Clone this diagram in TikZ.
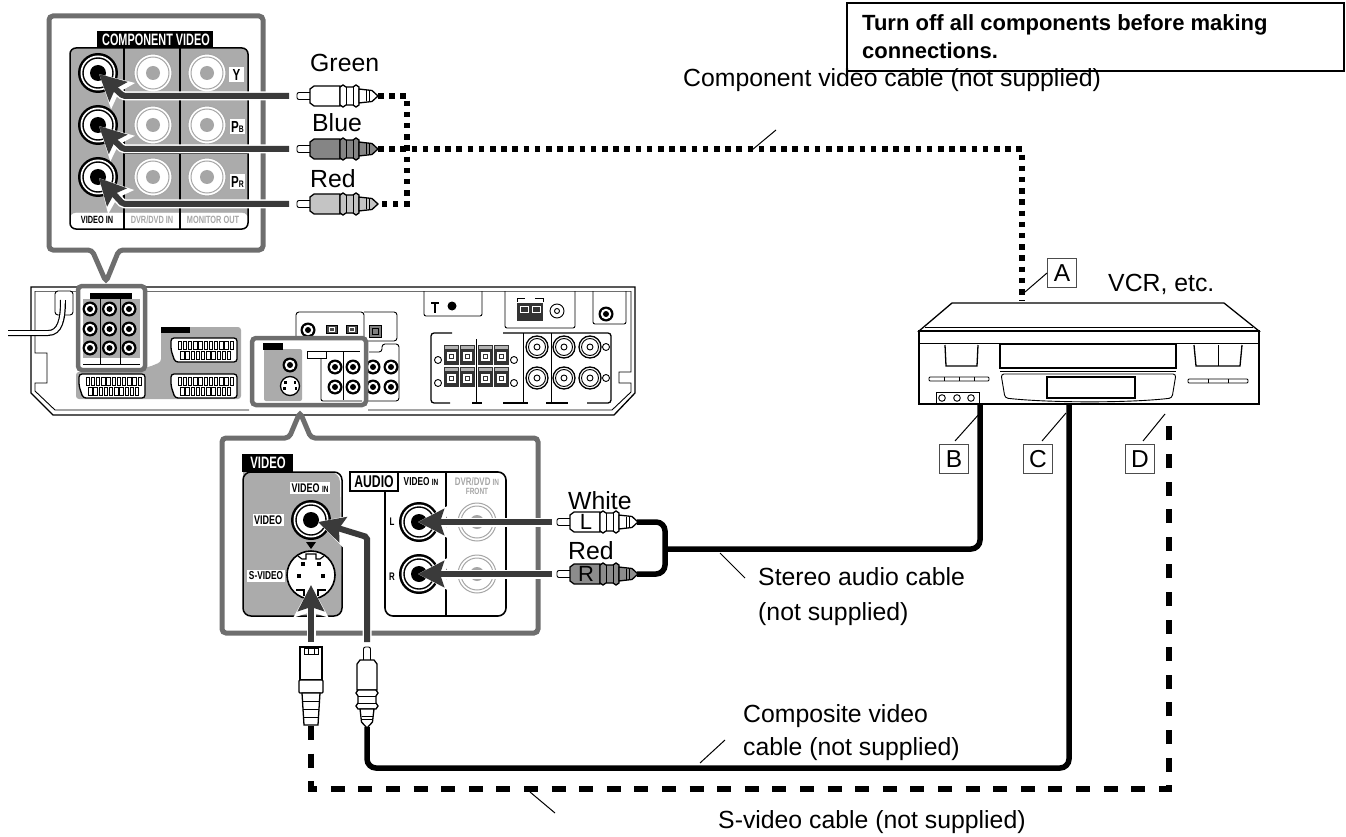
\documentclass[tikz,border=0pt]{standalone}
\usepackage{fontspec}
\setmainfont{Liberation Sans}
\usetikzlibrary{arrows.meta}
\definecolor{framegray}{HTML}{6E6E6E}
\definecolor{panelgray}{HTML}{ABABAB}
\definecolor{wiregray}{HTML}{3A3A3A}
\definecolor{fadegray}{HTML}{A6A6A6}
\definecolor{plugblue}{HTML}{858585}
\definecolor{plugred}{HTML}{C4C4C4}
\definecolor{plugdark}{HTML}{8C8C8C}
\newcommand{\narrowbold}[2][.72]{\bfseries\scalebox{#1}[1]{#2}}
\newcommand{\feedarrow}[1]{\draw [feedcase] #1; \draw [feedwire] #1;}
\tikzset{
	caption/.style={anchor=base west, inner sep=0pt, font=\fontsize{24.8}{28}\selectfont},
	warntext/.style={anchor=base west, inner sep=0pt, font=\fontsize{22}{28}\selectfont\bfseries},
	letterbox/.style={draw=black!70, line width=1pt, minimum size=29pt, inner sep=0pt, font=\fontsize{24.5}{28}\selectfont},
	tinylabel/.style={inner sep=1.5pt, fill=white, font=\fontsize{12.5}{13}\selectfont},
	tagbox/.style={fill=white, inner sep=0pt, minimum width=15pt, minimum height=15pt, font=\fontsize{16}{16}\selectfont},
	leader/.style={line width=1pt},
	dotcable/.style={line width=5.5pt, dash pattern=on 5.5pt off 5.7pt},
	dashcable/.style={line width=6pt, dash pattern=on 14pt off 13.6pt},
	solidcable/.style={line width=5.5pt, rounded corners=9pt},
	feedcase/.style={white, line width=9pt, rounded corners=2pt, -{Stealth[length=32pt,width=34pt,inset=5pt]}},
	feedwire/.style={wiregray, line width=6pt, rounded corners=2pt, -{Stealth[length=26pt,width=26pt,inset=4pt]}},
	unitline/.style={line width=1.3pt},
	thinline/.style={line width=.9pt},
	bubble/.style={draw=framegray, fill=white, line width=5pt, rounded corners=4pt},
	bigjack/.pic={
		\fill [black] (0,0) circle (20);
		\fill [white] (0,0) circle (17.5);
		\draw [black, line width=1.4pt] (0,0) circle (15);
		\fill [black] (0,0) circle (8);
	},
	fadejack/.pic={
		\fill [white] (0,0) circle (19);
		\draw [fadegray, line width=1pt] (0,0) circle (19);
		\draw [fadegray, line width=1pt] (0,0) circle (16);
		\fill [fadegray] (0,0) circle (7);
	},
	smalljack/.pic={
		\fill [black] (0,0) circle (7.5);
		\fill [white] (0,0) circle (5.3);
		\fill [black] (0,0) circle (3);
	},
	ringjack/.pic={
		\draw [unitline, fill=white] (0,0) circle (11);
		\draw [thinline] (0,0) circle (8.5);
		\draw [thinline] (0,0) circle (3);
	},
	scartport/.pic={
		\draw [line width=1.3pt, fill=white, rounded corners=3pt] (-33,-12) -- (33,-12) -- (33,12) -- (-29,12) -- (-33,0) -- cycle;
		\foreach \pinx in {0,...,10}
			\draw [line width=.7pt] (-26+5.2*\pinx,-9) rectangle ++(3.4,8);
		\foreach \pinx in {0,...,9}
			\draw [line width=.7pt] (-23.5+5.2*\pinx,1) rectangle ++(3.4,8);
	},
	rcaplug/.pic={
		\draw [thinline, fill=white, rounded corners=2pt] (0,-3.5) rectangle (15,3.5);
		\draw [unitline, fill=#1] (13,-7) -- (17,-10) -- (43,-10) -- (43,10) -- (17,10) -- (13,7) -- cycle;
		\draw [unitline, fill=#1] (43,-9) -- (46,-11) -- (49,-9) -- (56,-9) -- (59,-11) -- (62,-9) -- (62,9) -- (59,11) -- (56,9) -- (49,9) -- (46,11) -- (43,9) -- cycle;
		\draw [thinline] (49,-9) -- (49,9);
		\draw [thinline] (56,-9) -- (56,9);
		\draw [unitline, fill=#1] (62,-7) -- (66,-6.5) -- (75,-5.5) -- (81,0) -- (75,5.5) -- (66,6.5) -- (62,7) -- cycle;
		\draw [thinline] (69,-5.5) -- (69,5.5);
		\draw [thinline] (72,-5.5) -- (72,5.5);
	},
	sviplug/.pic={
		\draw [unitline, fill=white] (-11,0) rectangle (11,33);
		\draw [thinline] (-7,1) rectangle (7,7);
		\draw [thinline] (-3,1) -- (-3,7);
		\draw [thinline] (3,1) -- (3,7);
		\draw [unitline, fill=white, rounded corners=1pt] (-12,33) rectangle (12,46);
		\draw [unitline, fill=white] (-9,46) -- (-7,78) -- (7,78) -- (9,46) -- cycle;
		\draw [thinline] (-8.5,54) -- (8.5,54);
		\draw [thinline] (-8,62) -- (8,62);
		\draw [thinline] (-7.5,70) -- (7.5,70);
	}
}
\begin{document}
\begin{tikzpicture}[x=1pt,y=-1pt]
	\useasboundingbox (0,0) rectangle (1346,837);

	\draw [unitline] (31,287) -- (635,287) -- (635,393) -- (614,415) -- (53,415) -- (31,393) -- cycle;
	\draw [framegray, line width=1pt] (35,291) -- (631,291);
	\draw [thinline] (35,291) -- (35,353) -- (47,353) -- (47,383) -- (35,383) -- (35,391) -- (55,410) -- (249,410);
	\draw [thinline] (631,291) -- (631,372) -- (619,372) -- (619,383) -- (631,383) -- (631,392) -- (612,410) -- (368,410);

	\draw [thinline, fill=white, rounded corners=3pt] (55,291) rectangle (73,315);
	\draw [black, line width=6pt] (8,333) -- (48,333) .. controls (60,333) and (63,320) .. (63,300);
	\draw [white, line width=3.6pt] (7,333) -- (48,333) .. controls (60,333) and (63,320) .. (63,299);

	\fill [panelgray, rounded corners=3pt] (76,372) -- (149,367) -- (161,362) -- (161,327) -- (241,327) -- (241,399) -- (76,399) -- cycle;
	\fill [black] (161,327) rectangle (190,333);
	\pic at (204,350) {scartport};
	\pic at (204,386) {scartport};
	\pic at (112,386) {scartport};

	\draw [bubble, line width=4.5pt] (78,286) rectangle (145,370);
	\fill [panelgray] (83,299) rectangle (140,358);
	\fill [black] (90,293) rectangle (132,299);
	\draw [thinline] (100,299) -- (100,365);
	\draw [thinline] (120,299) -- (120,365);
	\draw [thinline] (83,364) -- (140,364);
	\pic at (90,309) {smalljack};
	\pic at (109.5,309) {smalljack};
	\pic at (129,309) {smalljack};
	\pic at (90,329) {smalljack};
	\pic at (109.5,329) {smalljack};
	\pic at (129,329) {smalljack};
	\pic at (90,348) {smalljack};
	\pic at (109.5,348) {smalljack};
	\pic at (129,348) {smalljack};

	\draw [thinline, rounded corners=3pt] (296,345) -- (296,312) -- (364,312) -- (364,341) -- (397,341) -- (397,312) -- (364,312);
	\pic at (308,330) {smalljack};
	\draw [thinline, fill=black!70] (326,325) rectangle (337,333);
	\draw [white, line width=.7pt] (329,327) rectangle (334,331);
	\draw [thinline, fill=black!70] (346,325) rectangle (357,333);
	\draw [white, line width=.7pt] (349,327) rectangle (354,331);
	\draw [thinline, fill=black!50] (369,325) rectangle (381,337);
	\draw [black, line width=.7pt] (372,328) rectangle (378,334);
	\draw [thinline, rounded corners=3pt] (369,352) -- (382,352) -- (382,344) -- (399,344) -- (399,401) -- (368,401);
	\pic at (373,367) {smalljack};
	\pic at (391,367) {smalljack};
	\pic at (373,387) {smalljack};
	\pic at (391,387) {smalljack};

	\draw [bubble, line width=4.5pt] (252,338) rectangle (366,405);
	\fill [panelgray, rounded corners=2pt] (264,349) rectangle (302,401);
	\fill [black] (263,343) rectangle (283,350);
	\pic at (290,365) {smalljack};
	\draw [unitline, fill=white] (290,386) circle (9.5);
	\fill [black] (284,381) rectangle ++(2.5,2.5);
	\fill [black] (293.5,381) rectangle ++(2.5,2.5);
	\fill [black] (283,387) rectangle ++(2.5,2.5);
	\fill [black] (294.5,387) rectangle ++(2.5,2.5);
	\draw [thinline, fill=white] (307,351) rectangle (326,358);
	\draw [thinline] (326,351) -- (360,351);
	\draw [thinline, rounded corners=2pt] (321,358) -- (321,401) -- (362,401);
	\draw [thinline] (343,352) -- (343,400);
	\pic at (335,367) {smalljack};
	\pic at (353,367) {smalljack};
	\pic at (335,387) {smalljack};
	\pic at (353,387) {smalljack};

	\draw [thinline, rounded corners=2pt] (424,291) -- (424,316) -- (482,316) -- (482,291);
	\draw [line width=1.6pt] (431,303) -- (439,303) (435,303) -- (435,313);
	\fill [black] (452,306) circle (4.5);
	\draw [thinline, rounded corners=2pt] (505,291) -- (505,328) -- (575,328) -- (575,291);
	\fill [black!80] (517,303) rectangle (543,321);
	\draw [white, thinline] (520,306) rectangle (528,312);
	\draw [white, thinline] (532,306) rectangle (540,312);
	\draw [thinline] (517,302) -- (517,298) -- (525,298) (543,302) -- (543,298) -- (535,298);
	\draw [thinline] (557,311) circle (7);
	\draw [thinline] (557,311) circle (2.5);
	\draw [thinline, rounded corners=2pt] (593,291) -- (593,324) -- (626,324) -- (626,291);
	\pic at (606,314) {smalljack};

	\draw [unitline, rounded corners=3pt] (452,333) -- (431,333) -- (431,403) -- (450,403);
	\draw [unitline, rounded corners=3pt] (503,333) -- (611,333) -- (611,403) -- (587,403);
	\draw [unitline] (472,403) -- (482,403);
	\draw [unitline] (503,403) -- (528,403);
	\draw [unitline] (546,403) -- (568,403);
	\draw [thinline] (476,339) -- (476,403);
	\draw [thinline] (523,333) -- (523,403);
	\draw [thinline] (551,333) -- (551,403);
	\foreach \termx in {444,460,477.5,494} {
		\foreach \termy in {345,367} {
			\fill [black!80] (\termx,\termy) rectangle ++(15,20);
			\fill [black!30] (\termx+1,\termy+1) rectangle ++(13,3);
			\fill [white] (\termx+3,\termy+7) rectangle ++(9,9);
			\draw [black!80, line width=.8pt] (\termx+5.5,\termy+9.5) rectangle ++(4,4);
		}
	}
	\draw [thinline] (438,360) circle (3.5);
	\draw [thinline] (514,360) circle (3.5);
	\draw [thinline] (438,383) circle (3.5);
	\draw [thinline] (514,383) circle (3.5);
	\draw [thinline] (606,347) circle (3.5);
	\draw [thinline] (606,378) circle (3.5);
	\pic at (537,347) {ringjack};
	\pic at (564,347) {ringjack};
	\pic at (590,347) {ringjack};
	\pic at (537,378) {ringjack};
	\pic at (564,378) {ringjack};
	\pic at (590,378) {ringjack};

	\draw [bubble] (49,16) -- (263,16) -- (263,250) -- (119,250) -- (106,282) -- (92,250) -- (49,250) -- cycle;
	\fill [black] (97,31) rectangle (213,48);
	\node [text=white, inner sep=0pt, font=\fontsize{16.5}{17}\selectfont] (compvideo) at (156,39.5) {\narrowbold[.66]{COMPONENT VIDEO}};
	\fill [panelgray, rounded corners=6pt] (70,48) -- (70,229) -- (248,229) -- (248,48) -- cycle;
	\draw [white, fill=white, rounded corners=6pt] (70,213) -- (70,229) -- (248,229) -- (248,213) -- cycle;
	\draw [line width=1.5pt, rounded corners=6pt] (70,48) rectangle (248,229);
	\draw [line width=1.5pt] (124,48) -- (124,229);
	\draw [line width=1.5pt] (180,48) -- (180,229);
	\draw [thinline] (124,99) -- (248,99);
	\draw [thinline] (124,153) -- (248,153);
	\pic at (98,73) {bigjack};
	\pic at (98,125) {bigjack};
	\pic at (98,177) {bigjack};
	\pic at (153,73) {fadejack};
	\pic at (153,125) {fadejack};
	\pic at (153,177) {fadejack};
	\pic at (207,73) {fadejack};
	\pic at (207,125) {fadejack};
	\pic at (207,177) {fadejack};
	\node [tagbox] (lumaY) at (236.5,75) {\narrowbold{Y}};
	\node [tagbox] (chromaB) at (237.5,127) {\narrowbold{P\fontsize{9.5}{10}\selectfont B}};
	\node [tagbox] (chromaR) at (237.5,182) {\narrowbold{P\fontsize{9.5}{10}\selectfont R}};
	\node [inner sep=0pt, font=\fontsize{10.5}{11}\selectfont] (videoin) at (97,220) {\narrowbold[.7]{VIDEO IN}};
	\node [text=fadegray, inner sep=0pt, font=\fontsize{10.5}{11}\selectfont] (dvrin) at (152,220) {\narrowbold[.7]{DVR/DVD IN}};
	\node [text=fadegray, inner sep=0pt, font=\fontsize{10.5}{11}\selectfont] (monitorout) at (213,220) {\narrowbold[.7]{MONITOR OUT}};

	\coordinate (greenback) at (289,96);
	\coordinate (blueback) at (289,149);
	\coordinate (redback) at (289,204);
	\coordinate (greenelbow) at (123,96);
	\coordinate (blueelbow) at (123,149);
	\coordinate (redelbow) at (123,204);
	\coordinate (greentip) at (99,74);
	\coordinate (bluetip) at (99,126);
	\coordinate (redtip) at (99,178);
	\feedarrow{(greenback) -- (greenelbow) -- (greentip)}
	\feedarrow{(blueback) -- (blueelbow) -- (bluetip)}
	\feedarrow{(redback) -- (redelbow) -- (redtip)}

	\pic at (297,96) {rcaplug=white};
	\pic at (297,149) {rcaplug=plugblue};
	\pic at (297,204) {rcaplug=plugred};

	\coordinate (greenend) at (378,96);
	\coordinate (blueend) at (378,149);
	\coordinate (redend) at (378,204);
	\coordinate (greencorner) at (407,96);
	\coordinate (redcorner) at (407,204);
	\coordinate (vcrcorner) at (1022,149);
	\coordinate (vcrA) at (1022,301);
	\draw [dotcable] (greenend) -- (greencorner) -- (redcorner) -- (redend);
	\draw [dotcable] (blueend) -- (vcrcorner) -- (vcrA);

	\node [caption] (green) at (310,72) {Green};
	\node [caption] (blue) at (312,132) {Blue};
	\node [caption] (red) at (310,188) {Red};
	\node [caption] (compcable) at (683,87) {Component video cable (not supplied)};
	\coordinate (compleadA) at (752,150);
	\coordinate (compleadB) at (776,130);
	\draw [leader] (compleadA) -- (compleadB);

	\node [draw, line width=2.4pt, anchor=north west, minimum width=497pt, minimum height=68pt, inner sep=0pt] (warnbox) at (846,2) {};
	\node [warntext] (warningA) at (862,31) {Turn off all components before making};
	\node [warntext] (warningB) at (862,59) {connections.};

	\draw [unitline] (952,303) -- (1224,303) -- (1259,331) -- (919,331) -- cycle;
	\draw [thinline] (925,327) -- (1253,327);
	\draw [line width=1.6pt] (919,331) rectangle (1259,404);
	\draw [thinline] (919,343) -- (1259,343);
	\draw [line width=1.6pt] (1000,344) rectangle (1176,368);
	\draw [thinline] (1000,371) -- (1176,371);
	\draw [unitline] (945,345) -- (946,366) -- (977,366) -- (978,345);
	\draw [unitline] (1194,345) -- (1196,366) -- (1240,366) -- (1242,345);
	\draw [thinline] (1218,345) -- (1218,366);
	\draw [thinline, rounded corners=3pt] (1001,374) -- (1176,374) -- (1172,398) .. controls (1130,403) and (1050,403) .. (1005,398) -- cycle;
	\draw [line width=1.6pt, fill=white] (1047,377) rectangle (1135,398);
	\draw [thinline, rounded corners=1pt] (929,377) rectangle (989,381);
	\draw [thinline] (944,377) -- (944,381) (959,377) -- (959,381) (974,377) -- (974,381);
	\draw [thinline, rounded corners=1pt] (1188,379) rectangle (1248,383);
	\draw [thinline] (1208,379) -- (1208,383) (1228,379) -- (1228,383);
	\draw [thinline] (936,404) -- (936,392) -- (979,392) -- (979,404);
	\draw [thinline] (942,398) circle (3.3);
	\draw [thinline] (957,398) circle (3.3);
	\draw [thinline] (971,398) circle (3.3);

	\node [caption] (vcr) at (1108,291) {VCR, etc.};
	\node [letterbox] (boxA) at (1062,273) {A};
	\node [letterbox] (boxB) at (954,459) {B};
	\node [letterbox] (boxC) at (1038,459) {C};
	\node [letterbox] (boxD) at (1140,459) {D};
	\coordinate (leadA) at (1025,292);
	\coordinate (leadB) at (980,413);
	\coordinate (leadC) at (1066,413);
	\coordinate (leadD) at (1165,414);
	\draw [leader] (boxA.west) -- (leadA);
	\draw [leader] (boxB.north) ++(1,-3) -- (leadB);
	\draw [leader] (boxC.north) ++(4,-3) -- (leadC);
	\draw [leader] (boxD.north) ++(3,-3) -- (leadD);

	\draw [bubble] (222,438) -- (289,438) -- (300,412) -- (311,438) -- (538,438) -- (538,633) -- (222,633) -- cycle;
	\fill [panelgray] (243,472) -- (330,472) arc (-90:0:10) -- (342,606) arc (0:90:10) -- (253,616) arc (90:180:10) -- cycle;
	\draw [line width=1.5pt, rounded corners=8pt] (243,472) rectangle (342,616);
	\fill [black] (242,454) rectangle (293,472);
	\node [text=white, inner sep=0pt, font=\fontsize{16.5}{17}\selectfont] (videotag) at (268,463) {\narrowbold[.69]{VIDEO}};
	\node [tinylabel] (videoinB) at (310,488) {\narrowbold{VIDEO \fontsize{9}{9}\selectfont IN}};
	\node [tinylabel] (videoleft) at (268,520) {\narrowbold{VIDEO}};
	\node [tinylabel, font=\fontsize{11.5}{12}\selectfont] (svideoleft) at (266,576) {\narrowbold{S-VIDEO}};
	\pic at (311,520) {bigjack};
	\fill [black] (306,542) -- (316,542) -- (311,549) -- cycle;
	\draw [line width=1.6pt, fill=white] (311,575) circle (24);
	\draw [line width=1.2pt] (298,556) -- (302,559) -- (306,559) -- (306,554) -- (316,554) -- (316,559) -- (320,559) -- (324,556);
	\draw [line width=1.2pt] (296,590) -- (304,590) -- (304,596) (318,596) -- (318,590) -- (326,590);
	\fill [black] (301,562) rectangle (305,566);
	\fill [black] (317,562) rectangle (321,566);
	\fill [black] (297,574) rectangle (301,578);
	\fill [black] (321,574) rectangle (325,578);
	\draw [line width=1.6pt, rounded corners=8pt] (385,492) -- (385,616) -- (506,616) -- (506,472) -- (398,472);
	\draw [line width=1.5pt] (446,472) -- (446,616);
	\node [draw, line width=1.5pt, inner sep=0pt, minimum width=48pt, minimum height=19pt, fill=white, font=\fontsize{17}{18}\selectfont] (audiotag) at (374,481.5) {\narrowbold{AUDIO}};
	\node [inner sep=0pt, font=\fontsize{11.5}{12}\selectfont] (audioin) at (421,482) {\narrowbold{VIDEO \fontsize{9}{9}\selectfont IN}};
	\node [text=fadegray, inner sep=0pt, font=\fontsize{11}{12}\selectfont] (audiodvr) at (477,482) {\narrowbold{DVR/DVD \fontsize{9}{9}\selectfont IN}};
	\node [text=fadegray, inner sep=0pt, font=\fontsize{9}{10}\selectfont] (audiofront) at (477,491) {\narrowbold{FRONT}};
	\node [inner sep=0pt, font=\fontsize{11}{12}\selectfont] (jackL) at (392,522) {\narrowbold{L}};
	\node [inner sep=0pt, font=\fontsize{11}{12}\selectfont] (jackR) at (392,577) {\narrowbold{R}};
	\pic at (419,522) {bigjack};
	\pic at (419,574) {bigjack};
	\pic at (477,522) {fadejack};
	\pic at (477,574) {fadejack};

	\coordinate (whiteback) at (552,522);
	\coordinate (whitetip) at (418,522);
	\coordinate (redaudioback) at (552,574);
	\coordinate (redaudiotip) at (418,574);
	\coordinate (compback) at (367,642);
	\coordinate (compelbow) at (367,537);
	\coordinate (comptip) at (318,522);
	\coordinate (sviback) at (311,642);
	\coordinate (svitip) at (311,585);
	\feedarrow{(whiteback) -- (whitetip)}
	\feedarrow{(redaudioback) -- (redaudiotip)}
	\feedarrow{(compback) -- (compelbow) -- (comptip)}
	\feedarrow{(sviback) -- (svitip)}

	\pic at (557,522) {rcaplug=white};
	\pic at (557,574) {rcaplug=plugdark};
	\node [inner sep=0pt, font=\fontsize{22}{24}\selectfont] (plugL) at (586,522) {L};
	\node [inner sep=0pt, font=\fontsize{22}{24}\selectfont] (plugR) at (586,574) {R};
	\node [caption] (white) at (568,509) {White};
	\node [caption] (redaudio) at (568,559) {Red};

	\pic [rotate=-90] at (367,647) {rcaplug=white};
	\pic at (311,647) {sviplug};

	\coordinate (whiteend) at (637,522);
	\coordinate (redaudioend) at (637,574);
	\coordinate (mergetop) at (665,522);
	\coordinate (mergebottom) at (665,574);
	\coordinate (merge) at (665,549);
	\coordinate (audiocorner) at (980,549);
	\coordinate (vcrB) at (980,404);
	\coordinate (compend) at (367,727);
	\coordinate (compcorner) at (367,768);
	\coordinate (videocorner) at (1069,768);
	\coordinate (vcrC) at (1069,404);
	\draw [solidcable] (whiteend) -- (mergetop) -- (mergebottom) -- (redaudioend);
	\draw [solidcable] (merge) -- (audiocorner) -- (vcrB);
	\draw [solidcable] (compend) -- (compcorner) -- (videocorner) -- (vcrC);

	\coordinate (sviend) at (311,726);
	\coordinate (svicorner) at (311,789);
	\coordinate (dcorner) at (1169,789);
	\coordinate (vcrD) at (1169,419);
	\draw [dashcable] (sviend) -- (svicorner) -- (dcorner) -- (vcrD);

	\node [caption] (stereoA) at (758,585) {Stereo audio cable};
	\node [caption] (stereoB) at (758,620) {(not supplied)};
	\coordinate (stereoleadA) at (745,578);
	\coordinate (stereoleadB) at (720,553);
	\draw [leader] (stereoleadA) -- (stereoleadB);
	\node [caption] (compositeA) at (743,722) {Composite video};
	\node [caption] (compositeB) at (743,755) {cable (not supplied)};
	\coordinate (compositeleadA) at (700,763);
	\coordinate (compositeleadB) at (725,740);
	\draw [leader] (compositeleadA) -- (compositeleadB);
	\node [caption] (svideo) at (718,828) {S-video cable (not supplied)};
	\coordinate (svileadA) at (555,813);
	\coordinate (svileadB) at (530,792);
	\draw [leader] (svileadA) -- (svileadB);
\end{tikzpicture}
\end{document}
